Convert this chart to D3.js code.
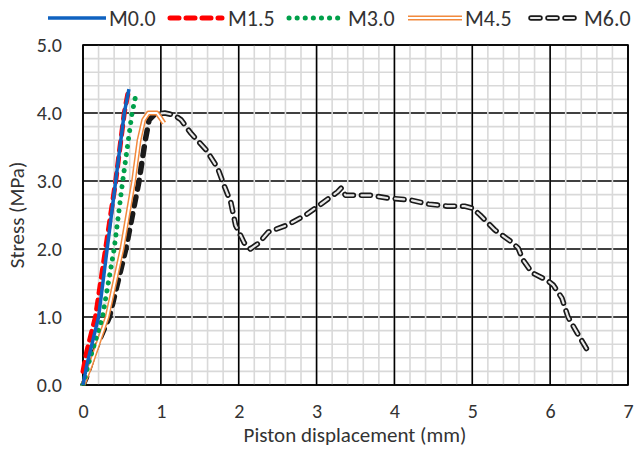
<!DOCTYPE html>
<html>
<head>
<meta charset="utf-8">
<script src="https://cdn.jsdelivr.net/npm/d3@7/dist/d3.min.js"></script>
<style>
  html, body { margin: 0; padding: 0; background: #fff; }
  svg { display: block; }
  text { font-family: Carlito, Calibri, Lato, "Open Sans", sans-serif; fill: #333; }
</style>
</head>
<body>
<svg id="chart" width="638" height="449"></svg>
<script>
// Piston displacement (mm) vs. stress (MPa) for five mixes
const seriesNames = ["M0.0", "M1.5", "M3.0", "M4.5", "M6.0"];

const dispM00 = [0, 0.05, 0.20, 0.31, 0.42, 0.53, 0.59];
const stressM00 = [0.0, 0.3, 1.0, 2.0, 3.0, 4.0, 4.35];

const dispM15 = [0, 0.05, 0.16, 0.29, 0.42, 0.53, 0.59];
const stressM15 = [0.2, 0.5, 1.0, 2.0, 3.0, 4.0, 4.37];

const dispM30 = [0, 0.08, 0.25, 0.40, 0.51, 0.63, 0.68];
const stressM30 = [0.0, 0.35, 1.0, 2.0, 3.0, 4.0, 4.27];

const dispM45 = [0, 0.1, 0.31, 0.50, 0.65, 0.72, 0.78, 0.84, 0.95, 1.0, 1.04];
const stressM45 = [0.0, 0.3, 1.0, 2.0, 3.0, 3.6, 3.9, 4.0, 4.0, 3.92, 3.85];

const dispM60 = [0, 0.04, 0.15, 0.34, 0.55, 0.72, 0.80, 0.85, 0.92, 1.05, 1.17, 1.26, 1.38,
  1.58, 1.73, 1.81, 1.90, 1.96, 2.07, 2.15, 2.26, 2.38, 2.62, 2.86, 3.08, 3.27, 3.32, 3.37,
  3.46, 3.69, 3.91, 4.21, 4.44, 4.68, 4.90, 5.00, 5.10, 5.29, 5.51, 5.59, 5.65, 5.77, 5.96,
  6.04, 6.15, 6.23, 6.35, 6.49];
const stressM60 = [0.0, 0.1, 0.5, 1.0, 2.0, 3.0, 3.6, 3.9, 3.98, 4.0, 3.97, 3.90, 3.71,
  3.46, 3.19, 2.94, 2.68, 2.35, 2.09, 2.0, 2.09, 2.25, 2.35, 2.50, 2.68, 2.84, 2.90, 2.79,
  2.79, 2.79, 2.75, 2.72, 2.66, 2.63, 2.63, 2.60, 2.50, 2.28, 2.10, 2.01, 1.84, 1.65, 1.54,
  1.47, 1.28, 1.0, 0.76, 0.49];

const xTicks = [0, 1, 2, 3, 4, 5, 6, 7];
const yTicks = [0, 1, 2, 3, 4, 5];
const xTitle = "Piston displacement (mm)";
const yTitle = "Stress (MPa)";

const series = [
  { name: seriesNames[0], x: dispM00, y: stressM00 },
  { name: seriesNames[1], x: dispM15, y: stressM15 },
  { name: seriesNames[2], x: dispM30, y: stressM30 },
  { name: seriesNames[3], x: dispM45, y: stressM45 },
  { name: seriesNames[4], x: dispM60, y: stressM60 }
];

// Stroke layers per series (outer first, inner highlight second).
// "from" limits a layer to points at or beyond that displacement.
const styles = {
  "M0.0": [{ stroke: "#0f62c0", width: 3.5 }],
  "M1.5": [{ stroke: "#ff0000", width: 5, dash: "9 7", cap: "round" }],
  "M3.0": [{ stroke: "#00a04a", width: 5, dash: "0.1 8", cap: "round" }],
  "M4.5": [{ stroke: "#f28a3e", width: 5 }, { stroke: "#ffffff", width: 2 }],
  "M6.0": [{ stroke: "#1a1a1a", width: 5.5, dash: "9 8", cap: "round" },
           { stroke: "#e8e8e8", width: 2.2, dash: "9 8", cap: "round", from: 0.92 }]
};

const svg = d3.select("#chart");
const FS = "21px";

const x = d3.scaleLinear().domain([0, 7]).range([83, 628]);
const y = d3.scaleLinear().domain([0, 5]).range([385, 45]);

const minorX = d3.range(0, 7.0001, 0.2);
const minorY = d3.range(0, 5.0001, 0.2);

const grid = svg.append("g");
// major horizontal
grid.selectAll(".hmaj").data(yTicks).join("line")
  .attr("x1", x(0)).attr("x2", x(7))
  .attr("y1", d => y(d)).attr("y2", d => y(d))
  .attr("stroke", "#000").attr("stroke-width", 1.6);
// minor vertical
grid.selectAll(".vmin").data(minorX).join("line")
  .attr("x1", d => x(d)).attr("x2", d => x(d))
  .attr("y1", y(0)).attr("y2", y(5))
  .attr("stroke", "#d9d9d9").attr("stroke-width", 1.6);
// minor horizontal
grid.selectAll(".hmin").data(minorY.filter(v => Math.abs(v - Math.round(v)) > 1e-6)).join("line")
  .attr("x1", x(0)).attr("x2", x(7))
  .attr("y1", d => y(d)).attr("y2", d => y(d))
  .attr("stroke", "#d9d9d9").attr("stroke-width", 1.6);
// major vertical
grid.selectAll(".vmaj").data(xTicks).join("line")
  .attr("x1", d => x(d)).attr("x2", d => x(d))
  .attr("y1", y(0)).attr("y2", y(5))
  .attr("stroke", "#000").attr("stroke-width", 1.6);
// plot border
svg.append("rect")
  .attr("x", x(0)).attr("y", y(5))
  .attr("width", x(7) - x(0)).attr("height", y(0) - y(5))
  .attr("fill", "none").attr("stroke", "#000").attr("stroke-width", 1.6);

// axes (labels only; lines drawn by the grid)
const xAxis = d3.axisBottom(x).tickValues(xTicks).tickFormat(d3.format("d")).tickSize(0).tickPadding(19);
const gx = svg.append("g").attr("transform", `translate(0,${y(0)})`).call(xAxis);
gx.select(".domain").remove();
gx.selectAll("text").style("font-size", "20px").attr("fill", "#333")
  .style("font-family", "Carlito, Calibri, Lato, sans-serif");

const yAxis = d3.axisLeft(y).tickValues(yTicks).tickFormat(d3.format(".1f")).tickSize(0).tickPadding(21);
const gy = svg.append("g").attr("transform", `translate(${x(0)},0)`).call(yAxis);
gy.select(".domain").remove();
gy.selectAll("text").style("font-size", "20px").attr("fill", "#333")
  .style("font-family", "Carlito, Calibri, Lato, sans-serif");

svg.append("text").attr("x", 355).attr("y", 442)
  .attr("text-anchor", "middle").style("font-size", FS).text(xTitle);
svg.append("text").attr("transform", "translate(24,215) rotate(-90)")
  .attr("text-anchor", "middle").style("font-size", FS).text(yTitle);

// series lines
const line = d3.line().x(d => x(d[0])).y(d => y(d[1]));
svg.append("defs").append("clipPath").attr("id", "plotclip")
  .append("rect").attr("x", x(0) - 3).attr("y", 0).attr("width", x(7) - x(0) + 6).attr("height", y(0) + 0.5);
const gLines = svg.append("g").attr("clip-path", "url(#plotclip)");
series.slice().reverse().forEach(s => {
  const pts = s.x.map((v, i) => [v, s.y[i]]);
  styles[s.name].forEach(st => {
    let seg = pts, offset = 0;
    if (st.from != null) {
      const k = pts.findIndex(p => p[0] >= st.from);
      seg = pts.slice(k);
      // keep the dash phase in step with the full-length outer stroke
      const tmp = gLines.append("path").attr("d", line(pts.slice(0, k + 1)));
      offset = tmp.node().getTotalLength();
      tmp.remove();
    }
    gLines.append("path").datum(seg)
      .attr("d", line).attr("fill", "none")
      .attr("stroke", st.stroke).attr("stroke-width", st.width)
      .attr("stroke-dasharray", st.dash || null)
      .attr("stroke-dashoffset", offset)
      .attr("stroke-linecap", st.cap || "butt")
      .attr("stroke-linejoin", "round");
  });
});

// legend
const legendItems = [
  { name: "M0.0", x1: 48, x2: 106, tx: 109 },
  { name: "M1.5", x1: 170, x2: 222, tx: 228 },
  { name: "M3.0", x1: 289, x2: 340, tx: 348 },
  { name: "M4.5", x1: 408, x2: 462, tx: 465 },
  { name: "M6.0", x1: 531, x2: 580, tx: 584 }
];
const ly = 18;
const gLeg = svg.append("g");
legendItems.forEach(it => {
  styles[it.name].forEach(st => {
    gLeg.append("line").attr("x1", it.x1).attr("x2", it.x2).attr("y1", ly).attr("y2", ly)
      .attr("stroke", st.stroke).attr("stroke-width", st.width)
      .attr("stroke-dasharray", st.dash || null)
      .attr("stroke-linecap", st.cap || "butt");
  });
  gLeg.append("text").attr("x", it.tx).attr("y", ly + 8).style("font-size", "22px").text(it.name);
});
</script>
</body>
</html>
